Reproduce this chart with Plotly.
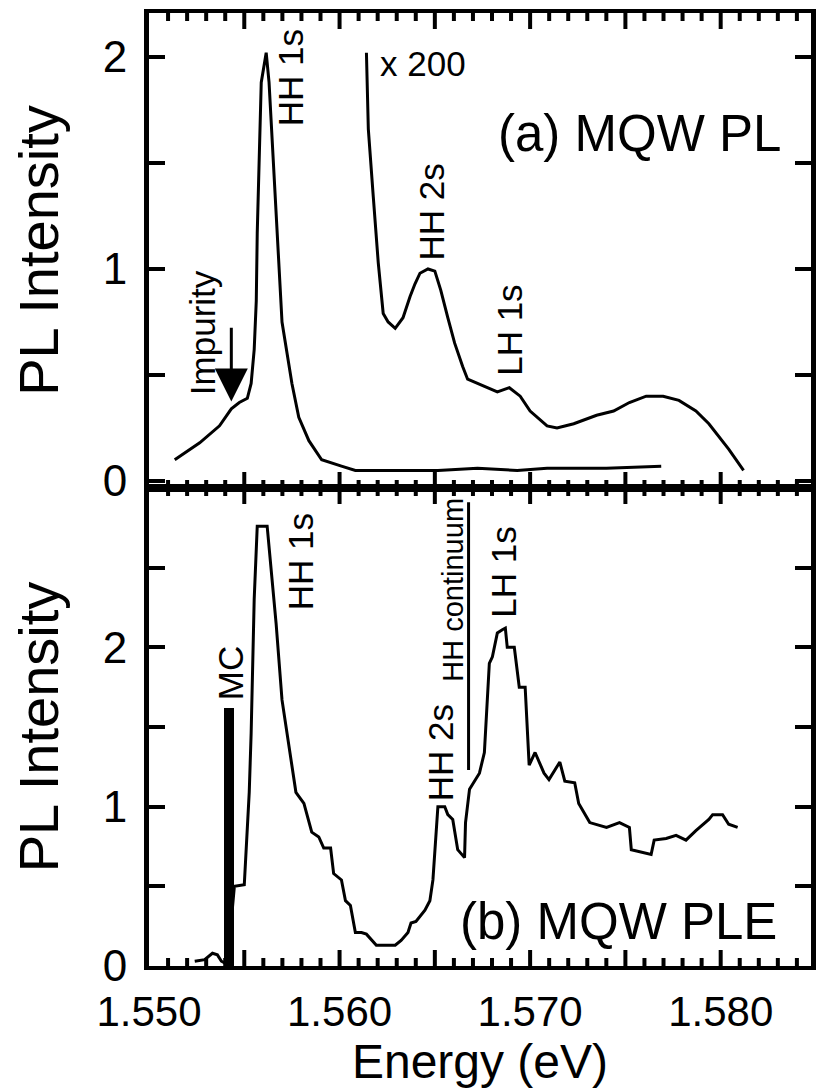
import plotly.graph_objects as go

# ---- (a) MQW photoluminescence -------------------------------------------
pl_energy = [1.55135, 1.55266, 1.55370, 1.55432, 1.55474, 1.55516, 1.55536,
             1.55552, 1.55563, 1.55568, 1.55589, 1.55615, 1.55630, 1.55677,
             1.55698, 1.55750, 1.55786, 1.55839, 1.55906, 1.56010, 1.56083,
             1.56296, 1.56516, 1.56724, 1.56932, 1.57089, 1.57400, 1.57688]
pl_intensity = [0.10, 0.18, 0.26, 0.34, 0.37, 0.39, 0.46,
                0.62, 0.85, 1.17, 1.88, 2.02, 1.88, 1.14,
                0.75, 0.46, 0.30, 0.19, 0.10, 0.07, 0.05,
                0.05, 0.05, 0.06, 0.05, 0.06, 0.06, 0.07]

# same spectrum magnified x200 above the HH 1s line
pl200_energy = [1.56141, 1.56151, 1.56177, 1.56203, 1.56229, 1.56255, 1.56292,
                1.56333, 1.56370, 1.56396, 1.56422, 1.56464, 1.56500, 1.56531,
                1.56568, 1.56604, 1.56646, 1.56672, 1.56828, 1.56891, 1.56948,
                1.57000, 1.57089, 1.57141, 1.57229, 1.57349, 1.57438, 1.57521,
                1.57609, 1.57698, 1.57781, 1.57870, 1.57938, 1.57974, 1.58042,
                1.58120]
pl200_intensity = [2.02, 1.66, 1.34, 1.03, 0.79, 0.75, 0.72,
                   0.77, 0.87, 0.93, 0.98, 1.00, 0.99, 0.90,
                   0.77, 0.65, 0.54, 0.48, 0.42, 0.44, 0.40,
                   0.33, 0.26, 0.25, 0.27, 0.31, 0.33, 0.37,
                   0.40, 0.40, 0.38, 0.33, 0.27, 0.23, 0.15,
                   0.05]

# ---- (b) MQW photoluminescence excitation --------------------------------
ple_energy = [1.55240, 1.55292, 1.55333, 1.55359, 1.55380, 1.55411, 1.55448,
              1.55500, 1.55526, 1.55536, 1.55552, 1.55568, 1.55620, 1.55667,
              1.55698, 1.55750, 1.55771, 1.55813, 1.55839, 1.55854, 1.55891,
              1.55917, 1.55953, 1.55969, 1.56010, 1.56031, 1.56057, 1.56083,
              1.56115, 1.56141, 1.56193, 1.56292, 1.56323, 1.56359, 1.56375,
              1.56401, 1.56448, 1.56474, 1.56490, 1.56516, 1.56552, 1.56568,
              1.56594, 1.56620, 1.56656, 1.56661, 1.56682, 1.56734, 1.56760,
              1.56786, 1.56802, 1.56828, 1.56854, 1.56870, 1.56880, 1.56917,
              1.56943, 1.56974, 1.56995, 1.57026, 1.57073, 1.57099, 1.57156,
              1.57182, 1.57234, 1.57255, 1.57313, 1.57401, 1.57469, 1.57521,
              1.57531, 1.57635, 1.57651, 1.57714, 1.57766, 1.57818, 1.57870,
              1.57938, 1.57958, 1.58010, 1.58042, 1.58089]
ple_intensity = [0.03, 0.04, 0.08, 0.07, 0.03, 0.01, 0.50,
                 0.51, 1.09, 1.46, 2.30, 2.76, 2.76, 2.15,
                 1.67, 1.25, 1.09, 1.02, 0.90, 0.84, 0.81,
                 0.74, 0.74, 0.58, 0.54, 0.41, 0.38, 0.21,
                 0.21, 0.20, 0.13, 0.13, 0.16, 0.21, 0.27,
                 0.28, 0.35, 0.41, 0.54, 1.00, 1.00, 0.95,
                 0.92, 0.73, 0.68, 0.90, 1.11, 1.21, 1.34,
                 1.90, 1.94, 2.09, 2.11, 2.12, 2.00, 2.00,
                 1.75, 1.75, 1.26, 1.34, 1.21, 1.17, 1.28,
                 1.16, 1.15, 1.02, 0.90, 0.87, 0.90, 0.87,
                 0.73, 0.70, 0.79, 0.80, 0.82, 0.79, 0.85,
                 0.92, 0.95, 0.95, 0.89, 0.87]

# microcavity (MC) mode marker and HH continuum onset
mc_energy = [1.55422]
mc_height = [1.62]
mc_width = [0.00052]
hh_continuum_energy = 1.56677

# axis ticks
x_tick_vals = [1.550, 1.555, 1.560, 1.565, 1.570, 1.575, 1.580]
x_tick_text = ["1.550", "", "1.560", "", "1.570", "", "1.580"]
x_minor_vals = [round(1.550 + 0.001 * i, 3) for i in range(1, 35) if i % 5]
ya_tick_vals = [0, 0.5, 1, 1.5, 2]
ya_tick_text = ["0", "", "1", "", "2"]
yb_tick_vals = [0, 0.5, 1, 1.5, 2, 2.5, 3]
yb_tick_text = ["0", "", "1", "", "2", "", ""]

FONT = "Liberation Sans, Arial, sans-serif"
INK = "black"
SPLIT = 0.5016  # boundary between the two panels (paper fraction)
X_RANGE = [1.550, 1.58474]
YA_RANGE = [-0.033, 2.2075]
YB_RANGE = [0.0, 3.0]
PLOT_H = 1092 - 13 - 126
YA_PX = (1 - SPLIT) * PLOT_H   # pixel height of panel (a)
YB_PX = SPLIT * PLOT_H         # pixel height of panel (b)

fig = go.Figure()
line_style = dict(color=INK, width=3)
fig.add_trace(go.Scatter(x=pl_energy, y=pl_intensity, mode="lines",
                         line=line_style, xaxis="x", yaxis="y"))
fig.add_trace(go.Scatter(x=pl200_energy, y=pl200_intensity, mode="lines",
                         line=line_style, xaxis="x", yaxis="y"))
fig.add_trace(go.Scatter(x=ple_energy, y=ple_intensity, mode="lines",
                         line=line_style, xaxis="x2", yaxis="y2"))
fig.add_trace(go.Bar(x=mc_energy, y=mc_height, width=mc_width,
                     marker=dict(color=INK, line=dict(width=0)),
                     xaxis="x2", yaxis="y2"))


def energy_ticks(yrange, px_height, xa, ya):
    """Inward energy ticks along the bottom and top frame edges of a panel."""
    xs, ys = [], []
    per_px = (yrange[1] - yrange[0]) / px_height
    for vals, length in ((x_tick_vals[1:], 16), (x_minor_vals, 8)):
        for v in vals:
            xs += [v, v, None, v, v, None]
            ys += [yrange[0], yrange[0] + length * per_px, None,
                   yrange[1], yrange[1] - length * per_px, None]
    fig.add_trace(go.Scatter(x=xs, y=ys, mode="lines", hoverinfo="skip",
                             line=dict(color=INK, width=4),
                             xaxis=xa, yaxis=ya, cliponaxis=False))


energy_ticks(YA_RANGE, YA_PX, "x", "y")
energy_ticks(YB_RANGE, YB_PX, "x2", "y2")


def x_axis(**extra):
    ax = dict(
        domain=[0, 1], range=X_RANGE,
        tickmode="array", tickvals=x_tick_vals, ticks="",
        showline=True, linewidth=4, linecolor=INK, mirror=True,
        showgrid=False, zeroline=False,
    )
    ax.update(extra)
    return ax


def y_axis(**extra):
    ax = dict(
        ticks="inside", ticklen=16, tickwidth=4, tickcolor=INK,
        showline=True, linewidth=5, linecolor=INK, mirror="ticks",
        showgrid=False, zeroline=False, tickmode="array",
        tickfont=dict(family=FONT, size=44, color=INK), ticklabelstandoff=8,
        title=dict(text="PL Intensity", standoff=28,
                   font=dict(family=FONT, size=56, color=INK)),
    )
    ax.update(extra)
    return ax


fig.update_layout(
    xaxis=x_axis(anchor="y", showticklabels=False),
    xaxis2=x_axis(anchor="y2", ticktext=x_tick_text, ticklabelstandoff=6,
                  tickfont=dict(family=FONT, size=42, color=INK),
                  title=dict(text="Energy (eV)", standoff=0,
                             font=dict(family=FONT, size=48, color=INK))),
    yaxis=y_axis(domain=[SPLIT, 1], anchor="x", range=YA_RANGE,
                 tickvals=ya_tick_vals, ticktext=ya_tick_text),
    yaxis2=y_axis(domain=[0, SPLIT], anchor="x2", range=YB_RANGE,
                  tickvals=yb_tick_vals, ticktext=yb_tick_text),
)

# HH continuum onset marker
fig.add_shape(type="line", xref="x2", yref="y2",
              x0=hh_continuum_energy, x1=hh_continuum_energy, y0=1.23, y1=2.91,
              line=dict(color=INK, width=3))

small = dict(family=FONT, size=35, color=INK)
big = dict(family=FONT, size=51, color=INK)


def label(text, x, y, row, font=small, angle=-90, xanchor="center"):
    ax = "x" if row == 1 else "x2"
    ay = "y" if row == 1 else "y2"
    fig.add_annotation(text=text, x=x, y=y, xref=ax, yref=ay,
                       showarrow=False, textangle=angle, font=font,
                       xanchor=xanchor, yanchor="middle")


# panel (a)
label("HH 1s", 1.55740, 1.90, 1)
label("x 200", 1.56203, 1.967, 1, angle=0, xanchor="left")
label("(a) MQW PL", 1.57573, 1.64, 1, font=big, angle=0)
label("HH 2s", 1.56484, 1.27, 1)
label("LH 1s", 1.56891, 0.71, 1)
label("Impurity", 1.55281, 0.70, 1)
fig.add_annotation(x=1.55432, y=0.375, ax=1.55432, ay=0.73,
                   xref="x", yref="y", axref="x", ayref="y",
                   text="", showarrow=True, arrowhead=2, arrowsize=2.2,
                   arrowwidth=3, arrowcolor=INK)

# panel (b)
label("HH 1s", 1.55792, 2.54, 2)
label("MC", 1.55427, 1.84, 2)
label("HH 2s", 1.56531, 1.34, 2)
label("HH continuum", 1.56594, 2.36, 2, font=dict(family=FONT, size=29, color=INK))
label("LH 1s", 1.56859, 2.47, 2)
label("(b) MQW PLE", 1.57462, 0.28, 2, font=big, angle=0)

fig.update_layout(
    width=818, height=1092,
    margin=dict(l=149, r=2, t=13, b=126),
    paper_bgcolor="white", plot_bgcolor="white",
    bargap=0, showlegend=False,
)

fig.write_html("out.html")
